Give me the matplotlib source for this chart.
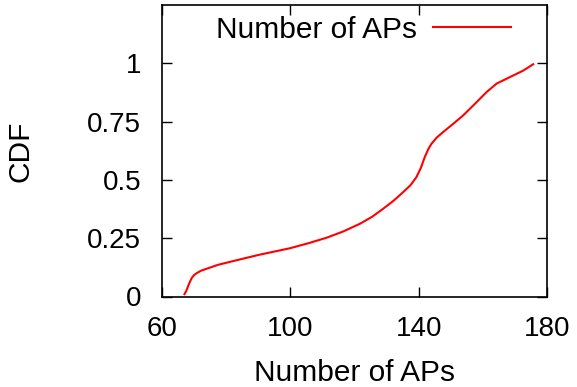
import matplotlib
matplotlib.use("Agg")
import matplotlib.pyplot as plt

# CDF of number of APs
num_aps = [67.0, 67.6, 68.2, 68.8, 69.3, 70.0, 70.8, 72.2, 73.9, 77.5, 82.2,
           90.0, 99.9, 105.5, 111.3, 116.5, 121.7, 125.5, 128.9, 132.2, 135.2,
           137.5, 139.3, 140.7, 141.9, 143.0, 144.0, 145.6, 147.6, 150.8,
           153.9, 157.5, 161.2, 164.3, 168.9, 172.5, 175.7]
cdf = [0.01, 0.025, 0.047, 0.066, 0.08, 0.092, 0.10, 0.111, 0.119, 0.136,
       0.152, 0.178, 0.207, 0.228, 0.252, 0.279, 0.312, 0.342, 0.376, 0.411,
       0.448, 0.478, 0.512, 0.552, 0.598, 0.632, 0.655, 0.681, 0.705, 0.741,
       0.777, 0.826, 0.877, 0.913, 0.944, 0.968, 0.996]

x_ticks = [60, 100, 140, 180]
y_ticks = [0, 0.25, 0.5, 0.75, 1]
y_tick_labels = ["0", "0.25", "0.5", "0.75", "1"]

plt.rcParams["font.family"] = ["Liberation Sans", "DejaVu Sans"]

W, H = 577, 387
fig = plt.figure(figsize=(W / 100, H / 100), dpi=100)
ax = fig.add_axes([162 / W, (H - 296.5) / H, (547 - 162) / W, (296.5 - 5) / H])

ax.plot(num_aps, cdf, color="#ff0000", linewidth=1.5, label="Number of APs")

ax.set_xlim(60, 180)
ax.set_ylim(0, 1.25)
ax.set_xticks(x_ticks)
ax.set_yticks(y_ticks)
ax.set_yticklabels(y_tick_labels)
ax.tick_params(direction="in", length=7, width=1, top=True, right=True,
               labelsize=20)
ax.tick_params(axis="x", pad=14)
ax.tick_params(axis="y", pad=15)
for s in ax.spines.values():
    s.set_linewidth(1.2)

ax.set_xlabel("Number of APs", fontsize=21.5, labelpad=12)
fig.text(20 / W, 1 - 151 / H, "CDF", fontsize=21.5, rotation=90,
         ha="center", va="center")

ax.legend(loc="upper right", bbox_to_anchor=(0.9065, 0.963), frameon=False,
          markerfirst=False, fontsize=21.5, handlelength=2.6,
          handletextpad=0.55, borderpad=0, borderaxespad=0)

fig.savefig("out.png", dpi=100)
